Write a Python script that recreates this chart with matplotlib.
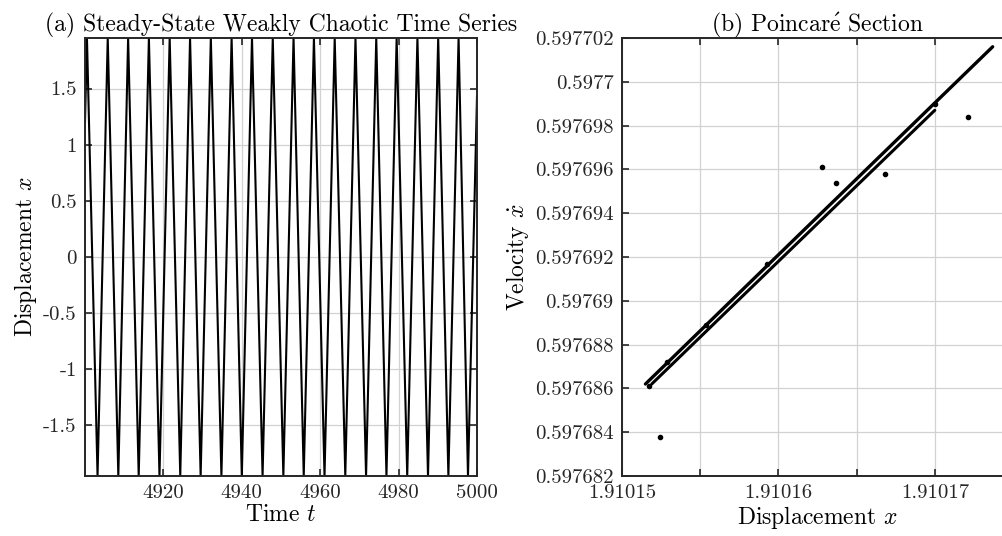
import matplotlib
matplotlib.use('Agg')
import matplotlib.pyplot as plt
from matplotlib.ticker import FixedLocator, FixedFormatter

# (a) time series, vertices (peaks/troughs of the oscillation)
t_vals = [4900.0, 4900.5, 4903.2, 4905.8, 4908.5, 4911.0, 4913.7, 4916.3, 4919.0,
          4921.6, 4924.3, 4926.8, 4929.5, 4932.1, 4934.8, 4937.4, 4940.0, 4942.6,
          4945.3, 4947.9, 4950.6, 4953.2, 4955.8, 4958.4, 4961.1, 4963.7, 4966.4,
          4969.0, 4971.7, 4974.3, 4976.9, 4979.5, 4982.2, 4984.8, 4987.5, 4990.1,
          4992.7, 4995.3, 4997.7, 5000.0]
x_vals = [1.20, 1.95, -1.95, 1.95, -1.95, 1.95, -1.95, 1.95, -1.95,
          1.95, -1.95, 1.95, -1.95, 1.95, -1.95, 1.95, -1.95, 1.95,
          -1.95, 1.95, -1.95, 1.95, -1.95, 1.95, -1.95, 1.95, -1.95,
          1.95, -1.95, 1.95, -1.95, 1.95, -1.95, 1.95, -1.95, 1.95,
          -1.95, 1.95, -1.95, 1.43]
a_xticks = [4920, 4940, 4960, 4980, 5000]
a_yticks = [-1.5, -1, -0.5, 0, 0.5, 1, 1.5]
a_ylabels = ['-1.5', '-1', '-0.5', '0', '0.5', '1', '1.5']

# (b) Poincare section: two close branches + a few stray points
upper_x = [1.9101515, 1.9101600, 1.9101737]
upper_y = [0.5976862, 0.5976921, 0.5977016]
lower_x = [1.9101519, 1.9101600, 1.9101700]
lower_y = [0.5976862, 0.5976918, 0.5976987]
dots_x = [1.9101524, 1.9101628, 1.9101668, 1.9101721, 1.9101637, 1.9101529,
          1.9101554, 1.9101593, 1.9101700, 1.9101517]
dots_y = [0.5976838, 0.5976961, 0.5976958, 0.5976984, 0.5976954, 0.5976872,
          0.5976889, 0.5976917, 0.5976990, 0.5976861]
b_xticks = [1.910150, 1.910155, 1.910160, 1.910165, 1.910170, 1.910175]
b_xlabels = ['1.91015', '', '1.91016', '', '1.91017', '']
b_yticks = [0.597682, 0.597684, 0.597686, 0.597688, 0.597690, 0.597692,
            0.597694, 0.597696, 0.597698, 0.597700, 0.597702]
b_ylabels = ['0.597682', '0.597684', '0.597686', '0.597688', '0.59769', '0.597692',
             '0.597694', '0.597696', '0.597698', '0.5977', '0.597702']

plt.rcParams['font.family'] = ['cmr10', 'DejaVu Serif']
plt.rcParams['mathtext.fontset'] = 'cm'
plt.rcParams['axes.unicode_minus'] = False
plt.rcParams['axes.formatter.use_mathtext'] = True

fs = 15    # tick labels
lfs = 17   # axis labels and titles
dark = '#262626'

fig = plt.figure(figsize=(10.03, 5.36), dpi=100)
ax1 = fig.add_axes([85 / 1003, 1 - 476 / 536, 392 / 1003, 438 / 536])
ax2 = fig.add_axes([622 / 1003, 1 - 476 / 536, 391 / 1003, 438 / 536])


def style(ax):
    ax.grid(True, color='#d2d2d2', linewidth=0.9)
    ax.set_axisbelow(True)
    for s in ax.spines.values():
        s.set_color(dark)
        s.set_linewidth(1.4)
    ax.tick_params(direction='in', top=True, right=True, length=5, width=1.2,
                   color=dark, labelcolor=dark, labelsize=fs, pad=6)


ax1.plot(t_vals, x_vals, color='black', linewidth=1.5)
ax1.set_xlim(4900, 5000)
ax1.set_ylim(-1.95, 1.95)
ax1.xaxis.set_major_locator(FixedLocator(a_xticks))
ax1.xaxis.set_major_formatter(FixedFormatter([str(v) for v in a_xticks]))
ax1.yaxis.set_major_locator(FixedLocator(a_yticks))
ax1.yaxis.set_major_formatter(FixedFormatter(a_ylabels))
style(ax1)
ax1.set_xlabel('Time $t$', fontsize=lfs, labelpad=1)
ax1.set_ylabel('Displacement $x$', fontsize=lfs, labelpad=3)
ax1.set_title('(a) Steady-State Weakly Chaotic Time Series', fontsize=lfs, pad=5)

ax2.plot(upper_x, upper_y, color='black', linewidth=2.4, solid_capstyle='round')
ax2.plot(lower_x, lower_y, color='black', linewidth=2.2, solid_capstyle='round')
ax2.scatter(dots_x, dots_y, s=9, color='black', zorder=3)
ax2.set_xlim(1.910150, 1.910175)
ax2.set_ylim(0.597682, 0.597702)
ax2.xaxis.set_major_locator(FixedLocator(b_xticks))
ax2.xaxis.set_major_formatter(FixedFormatter(b_xlabels))
ax2.yaxis.set_major_locator(FixedLocator(b_yticks))
ax2.yaxis.set_major_formatter(FixedFormatter(b_ylabels))
style(ax2)
ax2.set_xlabel('Displacement $x$', fontsize=lfs, labelpad=1)
ax2.set_ylabel(r'Velocity $\dot{x}$', fontsize=lfs, labelpad=3)
ax2.set_title(r'(b) Poincar$\acute{\mathrm{e}}$ Section', fontsize=lfs, pad=5)

fig.savefig('out.png', dpi=100)
